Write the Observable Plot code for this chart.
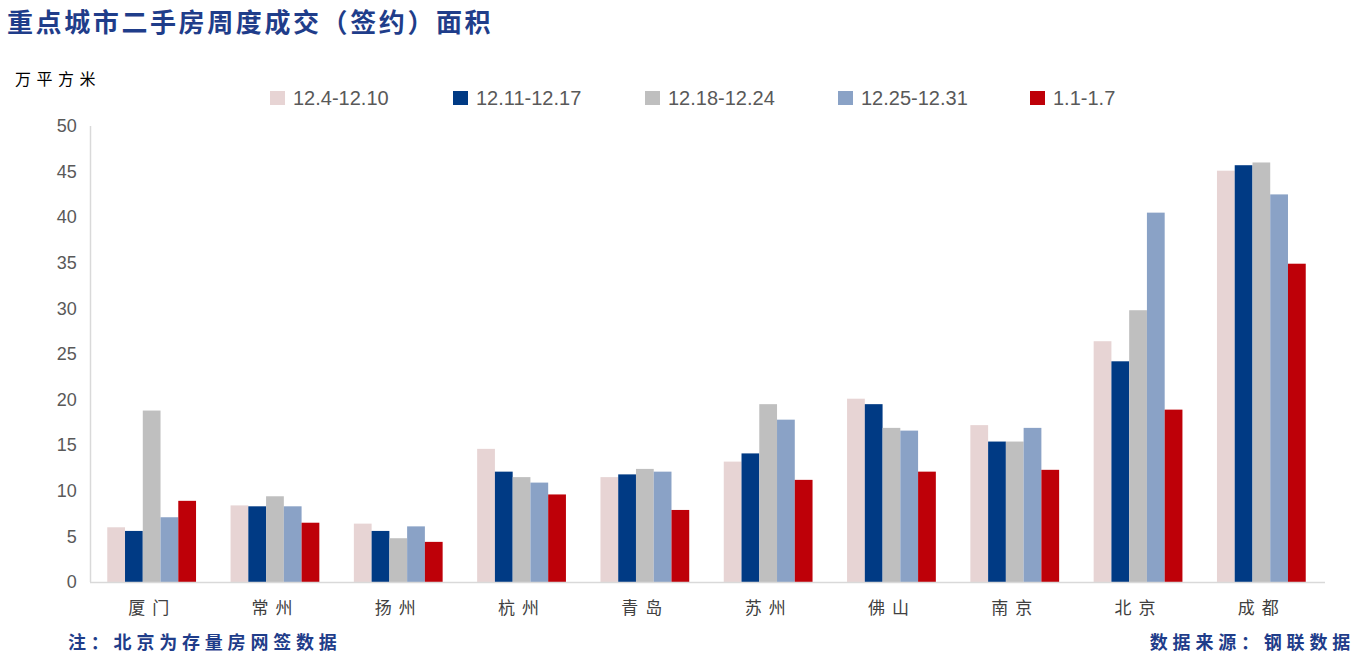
<!DOCTYPE html>
<html><head><meta charset="utf-8">
<script src="https://cdn.jsdelivr.net/npm/d3@7"></script>
<script src="https://cdn.jsdelivr.net/npm/@observablehq/plot@0.6"></script>
<style>
body{margin:0;width:1363px;height:655px;background:#fff;position:relative;overflow:hidden;font-family:"Noto Sans CJK SC",sans-serif;}
.abs{position:absolute;white-space:nowrap;}
#title{left:7px;top:2px;font-size:26px;font-weight:bold;color:#1f3d8a;letter-spacing:2.6px;}
#unit{left:15px;top:66px;font-size:16px;color:#000;letter-spacing:5.5px;}
#legend{left:0;top:85px;width:1363px;height:26px;}
.li{position:absolute;top:0;height:26px;display:flex;align-items:center;font-family:"Liberation Sans",sans-serif;font-size:20px;color:#595959;}
.sw{width:15px;height:14px;margin-right:8px;}
#note{left:68px;top:628px;font-size:18px;font-weight:bold;color:#1f3d8a;letter-spacing:4.8px;}
#src{right:8px;top:628px;font-size:18px;font-weight:bold;color:#1f3d8a;letter-spacing:4.8px;}
#chart{left:0;top:110px;}
#chart [aria-label="y-axis tick label"] text{font-family:"Liberation Sans",sans-serif;font-size:18px;fill:#595959;}
#chart [aria-label="fx-axis tick label"] text{font-family:"Noto Sans CJK SC",sans-serif;font-size:17px;fill:#404040;letter-spacing:7px;}
</style></head>
<body>
<div id="title" class="abs">重点城市二手房周度成交（签约）面积</div>
<div id="unit" class="abs">万平方米</div>
<div id="legend" class="abs"></div>
<div id="chart" class="abs"></div>
<div id="note" class="abs">注：北京为存量房网签数据</div>
<div id="src" class="abs">数据来源：钢联数据</div>
<script>
const cities = ["厦门","常州","扬州","杭州","青岛","苏州","佛山","南京","北京","成都"];
const weeks = ["12.4-12.10","12.11-12.17","12.18-12.24","12.25-12.31","1.1-1.7"];
const w1 = [6.0, 8.4, 6.4, 14.6, 11.5, 13.2, 20.1, 17.2, 26.4, 45.1];
const w2 = [5.6, 8.3, 5.6, 12.1, 11.8, 14.1, 19.5, 15.4, 24.2, 45.7];
const w3 = [18.8, 9.4, 4.8, 11.5, 12.4, 19.5, 16.9, 15.4, 29.8, 46.0];
const w4 = [7.1, 8.3, 6.1, 10.9, 12.1, 17.8, 16.6, 16.9, 40.5, 42.5];
const w5 = [8.9, 6.5, 4.4, 9.6, 7.9, 11.2, 12.1, 12.3, 18.9, 34.9];
const yTicks = [0,5,10,15,20,25,30,35,40,45,50];
const colors = ["#e7d4d4","#003a84","#bfbfbf","#8aa2c6","#be0008"];

const series = [w1,w2,w3,w4,w5];
const data = [];
cities.forEach((c,i)=>weeks.forEach((w,j)=>data.push({city:c, week:w, value:series[j][i]})));

const plot = Plot.plot({
  width:1363, height:515,
  marginTop:16, marginBottom:43, marginLeft:90, marginRight:40,
  fx:{domain:cities, paddingInner:0.28, paddingOuter:0.14, round:false, label:null, tickSize:0, tickPadding:19},
  x:{domain:weeks, padding:0, round:false, axis:null},
  y:{domain:[0,50], ticks:yTicks, tickSize:0, tickPadding:31, label:null},
  color:{domain:weeks, range:colors},
  marks:[
    Plot.barY(data,{fx:"city", x:"week", y:"value", fill:"week"})
  ]
});
document.getElementById("chart").appendChild(plot);
const ys = plot.scale("y");
const svg = d3.select(plot);
svg.append("line").attr("x1",90).attr("x2",1363-38).attr("y1",ys.apply(0)+0.5).attr("y2",ys.apply(0)+0.5).attr("stroke","#d9d9d9").attr("stroke-width",1.5);
svg.append("line").attr("x1",90.5).attr("x2",90.5).attr("y1",ys.apply(50)).attr("y2",ys.apply(0)).attr("stroke","#d9d9d9").attr("stroke-width",1.5);

const lg = document.getElementById("legend");
const lx = [270,453,645,838,1030];
weeks.forEach((w,i)=>{
  const d = document.createElement("div");
  d.className="li"; d.style.left=lx[i]+"px";
  d.innerHTML=`<div class="sw" style="background:${colors[i]}"></div><span>${w}</span>`;
  lg.appendChild(d);
});
</script>
</body></html>
